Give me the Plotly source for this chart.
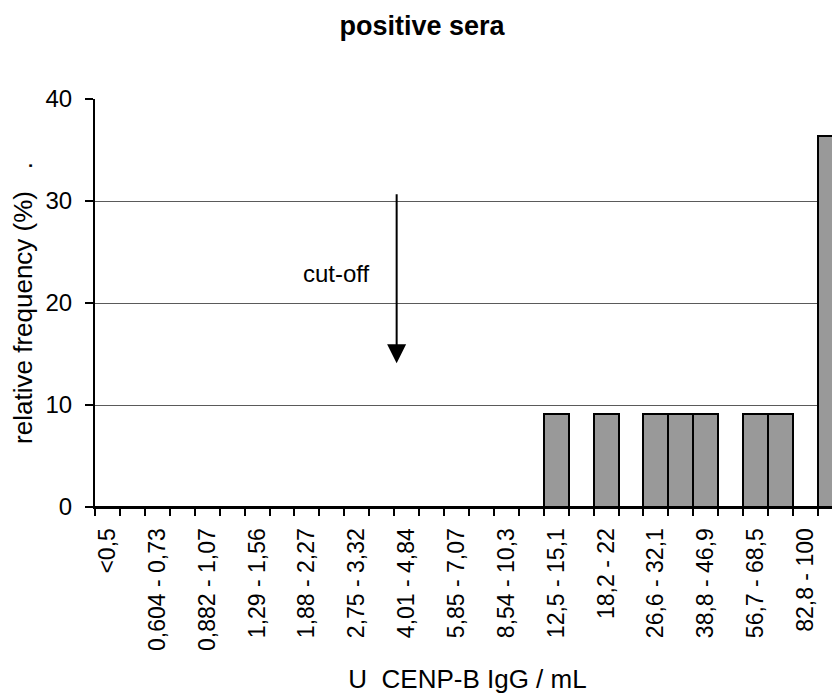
import plotly.graph_objects as go

# 30 bins; only every other bin carries a printed label
tick_labels = ["<0,5", "", "0,604 - 0,73", "", "0,882 - 1,07", "", "1,29 - 1,56", "",
               "1,88 - 2,27", "", "2,75 - 3,32", "", "4,01 - 4,84", "", "5,85 - 7,07", "",
               "8,54 - 10,3", "", "12,5 - 15,1", "", "18,2 - 22", "", "26,6 - 32,1", "",
               "38,8 - 46,9", "", "56,7 - 68,5", "", "82,8 - 100", ""]
freq = [0, 0, 0, 0, 0, 0, 0, 0, 0, 0, 0, 0, 0, 0, 0, 0, 0, 0,
        9.09, 0, 9.09, 0, 9.09, 9.09, 9.09, 0, 9.09, 9.09, 0, 36.36]
bin_index = list(range(len(freq)))

cutoff_x = 11.6
cutoff_top = 30.8
cutoff_tip = 14.1

FONT = "Liberation Sans, Arial, sans-serif"
W, H = 832, 691

fig = go.Figure()
fig.add_trace(go.Bar(
    x=bin_index, y=freq, width=1,
    marker=dict(color="#999999", line=dict(color="black", width=2)),
    showlegend=False, hoverinfo="skip",
))

fig.add_annotation(
    x=cutoff_x, y=cutoff_tip, ax=cutoff_x, ay=cutoff_top,
    xref="x", yref="y", axref="x", ayref="y",
    showarrow=True, arrowhead=2, arrowsize=1.9, arrowwidth=2, arrowcolor="black",
    text="",
)
fig.add_annotation(
    x=9.2, y=22.9, xref="x", yref="y", text="cut-off", showarrow=False,
    font=dict(family=FONT, size=24, color="black"),
)

fig.update_layout(
    width=W, height=H,
    margin=dict(l=87, r=0, t=91, b=H - 499),
    paper_bgcolor="white", plot_bgcolor="white",
    bargap=0,
    title=dict(text="<b>positive sera</b>", x=414 / W, xanchor="center", xref="container",
               y=1 - 18 / H, yanchor="middle", yref="container",
               font=dict(family=FONT, size=27, color="black")),
    font=dict(family=FONT, color="black"),
)

fig.update_xaxes(
    range=[-0.5, -0.5 + (W - 87) / 24.93], tickmode="array", tickvals=bin_index,
    ticktext=tick_labels,
    tickangle=-90, ticks="", ticklabelstandoff=10,
    tickfont=dict(family=FONT, size=23, color="black"),
    minor=dict(ticks="outside", tickmode="linear", tick0=-0.5, dtick=1,
               ticklen=7, tickwidth=1.6, tickcolor="black"),
    showline=True, linecolor="black", linewidth=2, showgrid=False, zeroline=False,
    title=dict(text="U\u00a0\u00a0CENP-B IgG / mL", standoff=20,
               font=dict(family=FONT, size=26, color="black")),
)
fig.update_yaxes(
    range=[0, 40], dtick=10, ticks="outside", ticklen=8, tickwidth=1.6, tickcolor="black",
    ticklabelstandoff=8,
    tickfont=dict(family=FONT, size=24, color="black"),
    showline=True, linecolor="black", linewidth=2,
    showgrid=True, gridcolor="#5a5a5a", gridwidth=1, zeroline=False,
    title=dict(text="relative frequency (%)\u00a0\u00a0\u00a0.", standoff=6,
               font=dict(family=FONT, size=26, color="black")),
)

fig.write_html("out.html")
